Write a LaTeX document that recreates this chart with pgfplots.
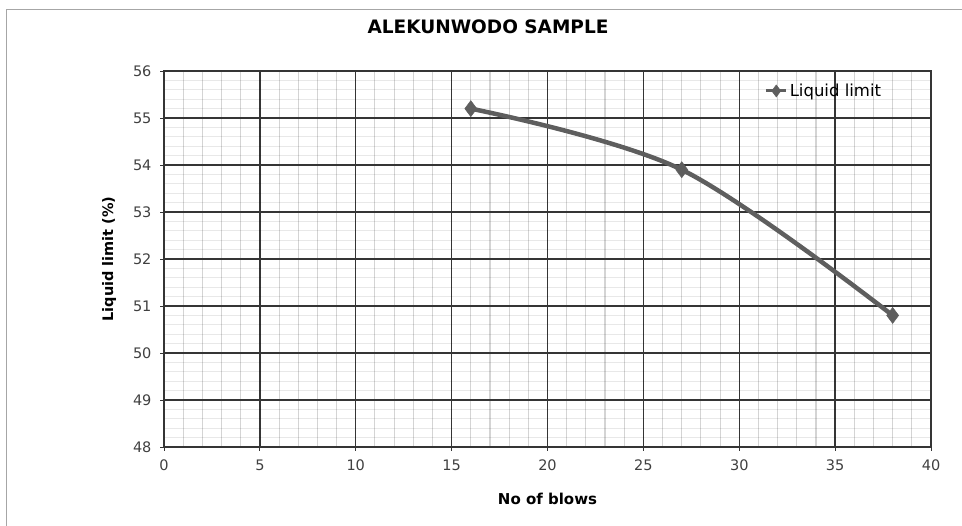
\documentclass[border=0pt]{standalone}
\usepackage{pgfplots}
\pgfplotsset{compat=1.18}
\usepackage{fontspec}
\setmainfont{DejaVu Sans}
\setsansfont{DejaVu Sans}
\definecolor{linegray}{HTML}{5E5E5E}
\definecolor{majgrid}{HTML}{353535}
\begin{document}
\begin{tikzpicture}
\useasboundingbox (0pt,0pt) rectangle (962pt,-526pt);
\draw[gray!70, line width=1pt] (6pt,-526pt) -- (6pt,-10pt) -- (962pt,-10pt);
\node[font=\fontsize{18.5}{20}\selectfont\bfseries] at (488pt,-27pt) {ALEKUNWODO SAMPLE};
\begin{axis}[
  at={(164pt,-447pt)}, anchor=south west,
  scale only axis, width=767pt, height=376pt,
  xmin=0, xmax=40, ymin=48, ymax=56,
  xtick={0,5,...,40}, ytick={48,49,...,56},
  minor x tick num=4, minor y tick num=4,
  grid=both,
  major grid style={majgrid, line width=1.3pt},
  minor x grid style={black, draw opacity=0.17, line width=1.1pt},
  minor y grid style={black, draw opacity=0.09, line width=1.1pt},
  axis line style={majgrid, line width=1.2pt},
  tick align=outside, major tick length=4pt, minor tick length=0pt,
  tick style={majgrid, line width=0.8pt},
  xtick pos=bottom, ytick pos=left,
  /pgf/number format/assume math mode=true,
  ticklabel style={font=\fontsize{14.5}{16}\selectfont, text=black!75},
  xticklabel style={yshift=-5pt},
  yticklabel style={xshift=-5pt},
  xlabel={No of blows},
  ylabel={Liquid limit (\%)},
  xlabel style={font=\fontsize{15}{16}\selectfont\bfseries, yshift=-16pt},
  ylabel style={font=\fontsize{14.5}{16}\selectfont\bfseries, yshift=10pt},
  legend style={at={(0.783,0.947)}, anchor=west, draw=none, fill=none,
    font=\fontsize{16.5}{18}\selectfont, inner sep=0pt},
  legend cell align=left,
  legend image code/.code={
    \draw[#1, line width=3pt, mark size=6pt, mark repeat=2, mark phase=2] plot coordinates {(0pt,0pt) (10pt,0pt) (20pt,0pt)};},
]
\addplot[linegray, line width=4.5pt, smooth, tension=0.55,
  mark=diamond*, mark size=8pt, mark options={line width=0.5pt, fill=linegray, draw=linegray}]
  coordinates {(16,55.2) (27,53.9) (38,50.8)};
\addlegendentry{Liquid limit}
\end{axis}
\end{tikzpicture}
\end{document}
